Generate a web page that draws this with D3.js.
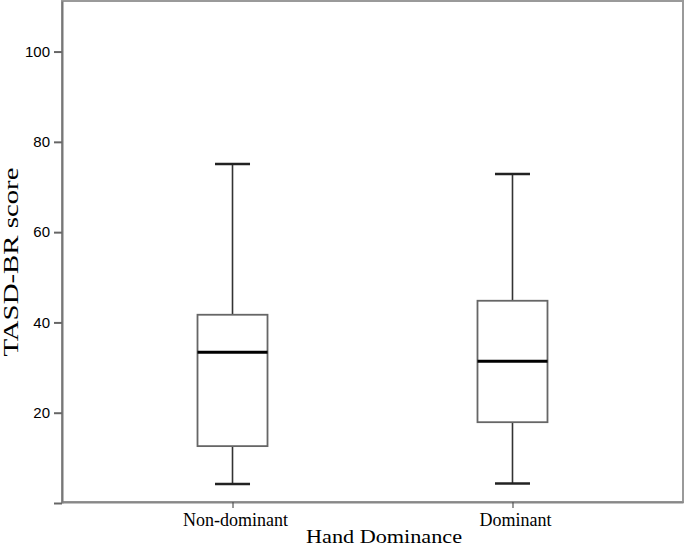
<!DOCTYPE html>
<html>
<head>
<meta charset="utf-8">
<script src="https://cdn.jsdelivr.net/npm/d3@7"></script>
<style>
  html, body { margin: 0; padding: 0; background: #fff; }
  svg { display: block; }
</style>
</head>
<body>
<svg id="chart" width="685" height="550"></svg>
<script>
// ---- Data ----
const categories = ["Non-dominant", "Dominant"];
const whiskerLow = [4.2, 4.3];
const q1Values = [12.6, 17.9];
const medianValues = [33.4, 31.4];
const q3Values = [41.7, 44.8];
const whiskerHigh = [75.1, 72.9];
const yTickValues = [0, 20, 40, 60, 80, 100];
const yTickLabels = ["", "20", "40", "60", "80", "100"];
const xTitle = "Hand Dominance";
const yTitle = "TASD-BR score";

// ---- Layout ----
const plotLeft = 62, plotRight = 683, plotTop = 1, plotBottom = 503;
const svg = d3.select("#chart");

const y = d3.scaleLinear().domain([0, 111.2]).range([plotBottom, plotTop]);
const x = d3.scalePoint().domain(categories).range([plotLeft, plotRight]).padding(0.609);

const boxW = 70, capW = 35;

// frame
svg.append("rect")
  .attr("x", plotLeft).attr("y", plotTop)
  .attr("width", plotRight - plotLeft).attr("height", plotBottom - 1 - plotTop)
  .attr("fill", "none").attr("stroke", "#9a9a9a").attr("stroke-width", 2);

// y axis
const yAxis = d3.axisLeft(y).tickValues(yTickValues)
  .tickFormat((d, i) => yTickLabels[i]).tickSizeInner(8).tickSizeOuter(0).tickPadding(4);
const gy = svg.append("g").attr("transform", `translate(${plotLeft},0)`).call(yAxis);
gy.select(".domain").attr("stroke", "#777").attr("stroke-width", 2);
gy.selectAll(".tick line").attr("stroke", "#666").attr("stroke-width", 2);
gy.selectAll(".tick text").attr("font-family", "Liberation Sans, Arial, sans-serif")
  .attr("font-size", 15).attr("fill", "#000");

// x axis
const xAxis = d3.axisBottom(x).tickSizeInner(6).tickSizeOuter(0).tickFormat(() => "");
const gx = svg.append("g").attr("transform", `translate(0,${plotBottom - 1})`).call(xAxis);
gx.select(".domain").attr("stroke", "#888").attr("stroke-width", 2);
gx.selectAll(".tick line").attr("stroke", "#555").attr("stroke-width", 1.2);

// category labels
svg.selectAll("text.cat").data(categories).enter().append("text")
  .attr("class", "cat")
  .attr("x", d => x(d) + 3)
  .attr("y", 526)
  .attr("text-anchor", "middle")
  .attr("font-family", "Liberation Serif, Times New Roman, serif")
  .attr("font-size", 18)
  .attr("fill", "#000")
  .text(d => d);

// boxes
const boxes = svg.selectAll("g.box").data(categories).enter().append("g").attr("class", "box");
boxes.append("line")
  .attr("x1", d => x(d)).attr("x2", d => x(d))
  .attr("y1", (d, i) => y(whiskerHigh[i])).attr("y2", (d, i) => y(q3Values[i]))
  .attr("stroke", "#333").attr("stroke-width", 1.6);
boxes.append("line")
  .attr("x1", d => x(d)).attr("x2", d => x(d))
  .attr("y1", (d, i) => y(q1Values[i])).attr("y2", (d, i) => y(whiskerLow[i]))
  .attr("stroke", "#333").attr("stroke-width", 1.6);
boxes.append("line")
  .attr("x1", d => x(d) - capW / 2).attr("x2", d => x(d) + capW / 2)
  .attr("y1", (d, i) => y(whiskerHigh[i])).attr("y2", (d, i) => y(whiskerHigh[i]))
  .attr("stroke", "#222").attr("stroke-width", 2.5);
boxes.append("line")
  .attr("x1", d => x(d) - capW / 2).attr("x2", d => x(d) + capW / 2)
  .attr("y1", (d, i) => y(whiskerLow[i])).attr("y2", (d, i) => y(whiskerLow[i]))
  .attr("stroke", "#222").attr("stroke-width", 2.5);
boxes.append("rect")
  .attr("x", d => x(d) - boxW / 2)
  .attr("y", (d, i) => y(q3Values[i]))
  .attr("width", boxW)
  .attr("height", (d, i) => y(q1Values[i]) - y(q3Values[i]))
  .attr("fill", "#fff").attr("stroke", "#666").attr("stroke-width", 1.8);
boxes.append("line")
  .attr("x1", d => x(d) - boxW / 2).attr("x2", d => x(d) + boxW / 2)
  .attr("y1", (d, i) => y(medianValues[i])).attr("y2", (d, i) => y(medianValues[i]))
  .attr("stroke", "#000").attr("stroke-width", 3);

// axis titles
svg.append("text")
  .attr("x", 384).attr("y", 543)
  .attr("text-anchor", "middle")
  .attr("font-family", "Liberation Serif, Times New Roman, serif")
  .attr("font-size", 19)
  .attr("textLength", 156).attr("lengthAdjust", "spacingAndGlyphs")
  .attr("fill", "#000")
  .text(xTitle);

svg.append("text")
  .attr("transform", "translate(18,262) rotate(-90)")
  .attr("text-anchor", "middle")
  .attr("font-family", "Liberation Serif, Times New Roman, serif")
  .attr("font-size", 20)
  .attr("textLength", 189).attr("lengthAdjust", "spacingAndGlyphs")
  .attr("fill", "#000")
  .text(yTitle);
</script>
</body>
</html>
